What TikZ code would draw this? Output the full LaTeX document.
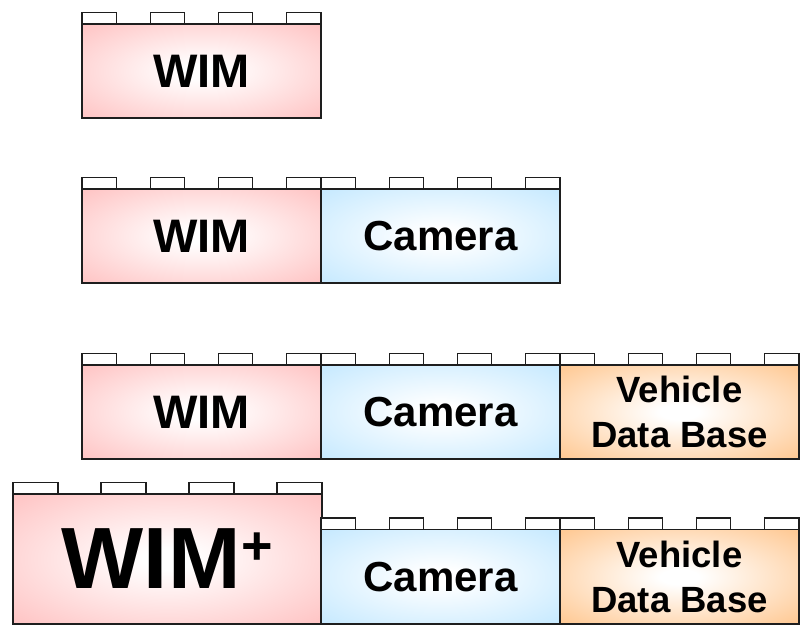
\documentclass[tikz,border=0pt]{standalone}
\usepackage{fontspec}
\setmainfont{Liberation Sans}

\definecolor{wimpink}{RGB}{255,198,198}
\definecolor{camblue}{RGB}{200,234,255}
\definecolor{dborange}{RGB}{255,202,150}
\definecolor{edge}{RGB}{30,30,30}

% soft glow: white in the middle, full colour towards the rim
\pgfdeclareradialshading{wimglow}{\pgfpointorigin}{color(0bp)=(white); color(4bp)=(white); color(34bp)=(wimpink); color(50bp)=(wimpink)}
\pgfdeclareradialshading{camglow}{\pgfpointorigin}{color(0bp)=(white); color(4bp)=(white); color(34bp)=(camblue); color(50bp)=(camblue)}
\pgfdeclareradialshading{dbglow}{\pgfpointorigin}{color(0bp)=(white); color(4bp)=(white); color(34bp)=(dborange); color(50bp)=(dborange)}

\tikzset{
  brick/.style={draw=edge, line width=1.4pt, inner sep=0pt, outer sep=0pt,
    anchor=north west, align=center},
  stud/.style={draw=edge, line width=1.3pt, fill=white},
  wimtext/.style={font=\bfseries\fontsize{47}{47}\selectfont},
  camtext/.style={font=\bfseries\fontsize{42}{42}\selectfont},
  dbtext/.style={font=\bfseries\fontsize{36.5}{45}\selectfont},
}

\begin{document}
\begin{tikzpicture}[x=1pt,y=-1pt]
  \useasboundingbox (0,0) rectangle (808,627);

  % first row: weigh-in-motion alone
  \node[brick, shading=wimglow, wimtext, minimum width=239pt, minimum height=94pt] (w1) at (82,24) {WIM};
  % second row: plus camera
  \node[brick, shading=wimglow, wimtext, minimum width=239pt, minimum height=94pt] (w2) at (82,189) {WIM};
  \node[brick, shading=camglow, camtext, minimum width=239pt, minimum height=94pt] (c2) at (321,189) {Camera};
  % third row: plus vehicle data base
  \node[brick, shading=wimglow, wimtext, minimum width=239pt, minimum height=94pt] (w3) at (82,365) {WIM};
  \node[brick, shading=camglow, camtext, minimum width=239pt, minimum height=94pt] (c3) at (321,365) {Camera};
  \node[brick, shading=dbglow, dbtext, minimum width=239pt, minimum height=94pt] (d3) at (560,365) {Vehicle\\Data Base};
  % fourth row: enlarged WIM+ brick
  \node[brick, shading=wimglow, font=\bfseries\fontsize{87}{87}\selectfont, minimum width=309pt, minimum height=130pt] (w4) at (13,494)
    {WIM\hspace{1pt}\raisebox{24pt}{\fontsize{54}{54}\selectfont+}};
  \node[brick, shading=camglow, camtext, minimum width=239pt, minimum height=94.5pt] (c4) at (321,529.5) {Camera};
  \node[brick, shading=dbglow, dbtext, minimum width=239pt, minimum height=94.5pt] (d4) at (560,529.5) {Vehicle\\Data Base};

  % studs on top of every brick
  \foreach \b/\w/\s in {w1/239/34.5, w2/239/34.5, c2/239/34.5, w3/239/34.5, c3/239/34.5, d3/239/34.5,
                         w4/309/45, c4/239/34.5, d4/239/34.5}{
    \foreach \i in {0,...,3}{
      \draw[stud] ([xshift={\i*(\w-\s)/3*1pt}]\b.north west) rectangle ++(\s pt,11.5pt);
    }
  }
\end{tikzpicture}
\end{document}
